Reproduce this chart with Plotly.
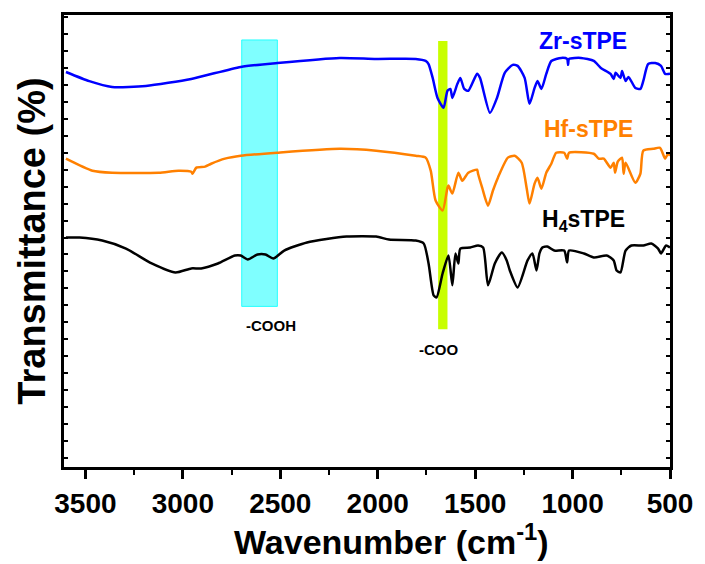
import plotly.graph_objects as go

# Wavenumbers (cm^-1) and transmittance (offset, arbitrary units)
zr_wn = [3600, 3480, 3363, 3190, 2957, 2703, 2515, 2195, 2008, 1805, 1754, 1739, 1718, 1693, 1662, 1642, 1627, 1617,
         1591, 1576, 1556, 1535, 1490, 1475, 1424, 1388, 1348, 1307, 1282, 1246, 1221, 1195, 1180, 1160, 1135,
         1109, 1058, 1028, 1023, 1018, 957, 891, 855, 805, 789, 779, 754, 746, 728, 713, 678, 652, 637, 612,
         576, 546, 525, 500]
zr_t = [23.29, 22.75, 22.41, 22.47, 22.88, 23.59, 23.82, 24.12, 24.06, 24.06, 23.94, 23.76, 22.94, 21.76, 21.18, 22.18,
        22.29, 21.76, 22.59, 22.94, 22.29, 22.18, 23.18, 22.94, 20.88, 21.76, 23.24, 23.71, 23.65, 22.94, 21.41,
        22.35, 22.76, 22.29, 23.18, 23.94, 24.12, 24.06, 23.71, 24.06, 24.12, 23.94, 23.53, 23.18, 22.88, 23.24,
        22.94, 23.35, 22.76, 23.0, 22.35, 22.29, 22.76, 23.76, 23.82, 23.65, 23.18, 23.18]

hf_wn = [3600, 3464, 3363, 3124, 3023, 2957, 2950, 2931, 2886, 2855, 2784, 2703, 2515, 2195, 2008, 1805, 1754,
         1728, 1703, 1667, 1642, 1637, 1617, 1586, 1566, 1535, 1490, 1485, 1464, 1434, 1409, 1383, 1332, 1297,
         1261, 1236, 1221, 1195, 1180, 1160, 1135, 1109, 1084, 1043, 1028, 1018, 891, 866, 840, 805, 789, 782,
         768, 746, 738, 728, 678, 652, 637, 586, 551, 525, 510, 500]
hf_t = [18.18, 17.47, 17.35, 17.35, 17.47, 17.41, 17.29, 17.65, 17.71, 17.88, 18.18, 18.35, 18.53, 18.76, 18.65,
        18.35, 18.24, 17.47, 15.71, 15.12, 16.47, 16.59, 16.12, 17.35, 16.88, 17.35, 17.53, 17.29, 16.47, 15.41,
        16.29, 17.06, 18.24, 18.35, 17.94, 16.47, 15.53, 16.71, 17.06, 16.41, 17.35, 17.88, 18.53, 18.53, 18.18,
        18.53, 18.47, 18.18, 18.18, 17.65, 17.94, 17.35, 18.0, 18.24, 17.29, 17.94, 16.76, 17.29, 18.65, 18.76,
        18.82, 18.18, 18.47, 18.35]

h4_wn = [3600, 3530, 3414, 3292, 3160, 3038, 2957, 2906, 2820, 2733, 2703, 2667, 2617, 2576, 2536, 2480, 2363,
         2160, 2008, 1942, 1805, 1764, 1739, 1713, 1698, 1667, 1637, 1617, 1601, 1586, 1576, 1525, 1485, 1459,
         1434, 1399, 1363, 1338, 1322, 1282, 1231, 1206, 1185, 1170, 1155, 1130, 1094, 1043, 1028, 1018, 942,
         891, 825, 789, 774, 754, 728, 698, 637, 596, 561, 546, 520, 500]
h4_t = [13.53, 13.53, 13.35, 12.88, 12.0, 11.47, 11.71, 11.71, 12.0, 12.47, 12.47, 12.24, 12.53, 12.53, 12.29,
        12.76, 13.24, 13.59, 13.59, 13.41, 13.35, 13.18, 12.0, 10.12, 10.0, 11.41, 12.47, 10.71, 12.59, 12.0,
        12.88, 12.94, 13.06, 12.94, 10.71, 12.0, 12.65, 12.18, 11.59, 10.59, 12.18, 12.59, 11.59, 12.59, 12.94,
        13.0, 12.76, 12.76, 12.06, 12.76, 12.59, 12.35, 12.47, 12.18, 11.59, 11.47, 12.76, 13.06, 13.06, 13.18,
        12.88, 12.59, 13.06, 12.94]

x_ticks = [3500, 3000, 2500, 2000, 1500, 1000, 500]

FONT = "Liberation Sans, Arial, sans-serif"

fig = go.Figure()
for wn, t, col, nm in [(zr_wn, zr_t, "#0000FF", "Zr-sTPE"),
                       (hf_wn, hf_t, "#FF8000", "Hf-sTPE"),
                       (h4_wn, h4_t, "#000000", "H4sTPE")]:
    fig.add_trace(go.Scatter(x=wn, y=t, mode="lines", name=nm,
                             line=dict(color=col, width=2.5, shape="spline", smoothing=0.6)))

# highlight bands
fig.add_shape(type="rect", xref="x", yref="y", x0=2698, x1=2515, y0=9.47, y1=25.18,
              fillcolor="rgba(0,255,255,0.5)", line=dict(color="rgba(0,255,255,0.8)", width=1), layer="below")
fig.add_shape(type="rect", xref="x", yref="y", x0=1690, x1=1642, y0=8.12, y1=25.12,
              fillcolor="#C8FF00", line=dict(width=0), layer="below")

fig.add_annotation(x=947, y=25.1, text="Zr-sTPE", showarrow=False,
                   font=dict(family=FONT, size=23, weight="bold", color="#0000FF"))
fig.add_annotation(x=916, y=19.94, text="Hf-sTPE", showarrow=False,
                   font=dict(family=FONT, size=23, weight="bold", color="#FF8000"))
fig.add_annotation(x=942, y=14.55, text="H<sub>4</sub>sTPE", showarrow=False,
                   font=dict(family=FONT, size=23, weight="bold", color="#000000"))
fig.add_annotation(x=2546, y=8.35, text="-COOH", showarrow=False,
                   font=dict(family=FONT, size=15, weight="bold", color="black"))
fig.add_annotation(x=1688, y=6.94, text="-COO", showarrow=False,
                   font=dict(family=FONT, size=15, weight="bold", color="black"))

# x-axis title (placed as an annotation, slightly right of centre as in the original)
fig.add_annotation(xref="paper", yref="paper", x=0.54, y=-0.16, xanchor="center", yanchor="middle",
                   text="Wavenumber (cm<sup>-1</sup>)", showarrow=False,
                   font=dict(family=FONT, size=34, weight="bold", color="black"))

fig.update_layout(
    width=705, height=564,
    margin=dict(l=64, r=28, t=14, b=97),
    plot_bgcolor="white", paper_bgcolor="white",
    showlegend=False,
)
fig.update_xaxes(
    range=[3610, 500], autorange=False,
    tickvals=x_ticks, ticktext=[str(v) for v in x_ticks],
    ticks="outside", ticklen=9, tickwidth=2.5, tickcolor="black",
    minor=dict(dtick=250, tick0=500, ticks="outside", ticklen=5, tickwidth=2, tickcolor="black"),
    showline=True, linewidth=3, linecolor="black", mirror=True,
    showgrid=False, zeroline=False,
    tickfont=dict(family=FONT, size=28, weight="bold", color="black"),
)
fig.update_yaxes(
    range=[0, 26.65], autorange=False,
    tick0=0.53, dtick=1, ticks="inside", ticklen=4, tickwidth=1.5, tickcolor="black",
    showticklabels=False,
    showline=True, linewidth=3, linecolor="black", mirror="ticks",
    showgrid=False, zeroline=False,
    title=dict(text="Transmittance (%)", standoff=4,
               font=dict(family=FONT, size=38, weight="bold", color="black")),
)

fig.write_html("out.html")
